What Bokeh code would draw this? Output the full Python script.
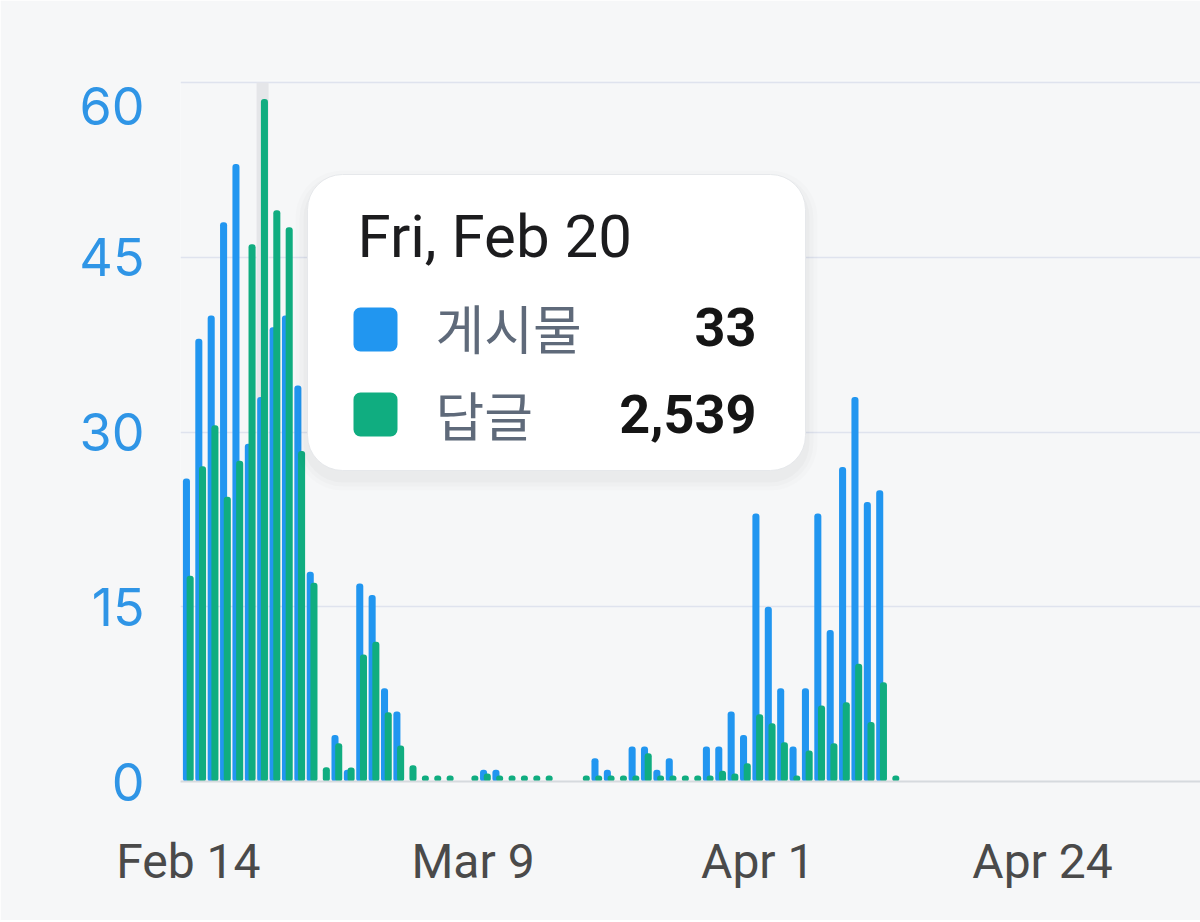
import pandas as pd
from bokeh.plotting import figure
from bokeh.models import Range1d, FixedTicker
from bokeh.core.properties import value
from bokeh.embed import file_html
from bokeh.resources import INLINE

# ---------------- data ----------------
start_date = "2026-02-14"
dates = pd.date_range(start_date, "2026-04-12").strftime("%Y-%m-%d").tolist()
posts = [26, 38, 40, 48, 53, 29, 33, 39, 40, 34,
         18, 0, 4, 1, 17, 16, 8, 6, 0, 0,
         0, 0, 0, 0, 1, 1, 0, 0, 0, 0,
         0, 0, 0, 2, 1, 0, 3, 3, 1, 2,
         0, 0, 3, 3, 6, 4, 23, 15, 8, 3,
         8, 23, 13, 27, 33, 24, 25, 0]
replies = [765, 1173, 1325, 1059, 1193, 1998, 2539, 2125, 2062, 1229,
           739, 53, 142, 52, 472, 520, 258, 134, 60, 22,
           22, 22, 0, 22, 30, 22, 22, 22, 22, 22,
           0, 0, 22, 22, 22, 22, 22, 105, 22, 22,
           22, 22, 22, 40, 30, 68, 250, 217, 146, 22,
           115, 283, 142, 295, 438, 221, 369, 22]
series_names = ["게시물", "답글"]
tick_dates = ["2026-02-14", "2026-03-09", "2026-04-01", "2026-04-24"]
tick_labels = ["Feb 14", "Mar 9", "Apr 1", "Apr 24"]
y_ticks = [0, 15, 30, 45, 60]
highlight_date = "2026-02-20"

BLUE = "#2196f0"
GREEN = "#10ad80"
BG = "#f6f7f8"

t0 = pd.Timestamp(start_date)
day = [(pd.Timestamp(d) - t0).days for d in dates]
tick_pos = [(pd.Timestamp(d) - t0).days for d in tick_dates]

# ---------------- layout geometry (page pixels) ----------------
W, H = 1200, 920
FL, FR, FB = 180, 1200, 781
GRID_TOP = 82                      # pixel row of the top gridline
FT = 80                            # frame top (a little above it so it shows)
PX_PER_DAY = 12.38
y_max = 60
PX_PER_UNIT = (FB - GRID_TOP) / y_max
x_start = -0.63
x_end = x_start + (FR - FL) / PX_PER_DAY
y_top = (FB - FT) / PX_PER_UNIT
reply_max = 2600 * y_top / y_max


def dx(px):
    return x_start + (px - FL) / PX_PER_DAY


def dy(py):
    return (FB - py) / PX_PER_UNIT


p = figure(width=W, height=H, output_backend="svg", toolbar_location=None,
           x_range=Range1d(x_start, x_end), y_range=Range1d(0, y_top),
           min_border_left=FL, min_border_right=W - FR, min_border_top=FT,
           min_border_bottom=H - FB)
p.extra_y_ranges = {"replies": Range1d(0, reply_max)}
p.background_fill_color = BG
p.border_fill_color = BG
p.outline_line_color = None

# hover band
hi = (pd.Timestamp(highlight_date) - t0).days
p.vbar(x=[hi], width=0.97, top=[y_max], bottom=0, fill_color="#e5e6e9",
       line_color=None)

bar_w = 0.57
off = 0.15
p.vbar(x=[d - off for d in day], width=bar_w, top=posts, bottom=0,
       fill_color=BLUE, line_color=None, border_radius=3)
p.vbar(x=[d + off for d in day], width=bar_w, top=replies, bottom=0,
       fill_color=GREEN, line_color=None, border_radius=3,
       y_range_name="replies")

# axes
p.xaxis.ticker = FixedTicker(ticks=tick_pos)
p.xaxis.major_label_overrides = {t: l for t, l in zip(tick_pos, tick_labels)}
p.xaxis.major_tick_line_color = None
p.xaxis.minor_tick_line_color = None
p.xaxis.axis_line_color = "#d6dade"
p.xaxis.axis_line_width = 2
p.xaxis.major_label_text_font = "Roboto"
p.xaxis.major_label_text_font_size = "48px"
p.xaxis.major_label_text_color = "#4a4a4a"
p.xaxis.major_label_standoff = 45

# the top tick label is drawn a little below its gridline, as in the source chart
top_label_pos = 58
p.yaxis.ticker = FixedTicker(ticks=y_ticks[:-1] + [top_label_pos])
p.yaxis.major_label_overrides = {top_label_pos: str(y_ticks[-1])}
p.yaxis.major_tick_line_color = None
p.yaxis.minor_tick_line_color = None
p.yaxis.axis_line_color = None
p.yaxis.major_label_text_font = "Inter"
p.yaxis.major_label_text_font_size = "52px"
p.yaxis.major_label_text_color = "#2f95e6"
p.yaxis.major_label_standoff = 30

p.xgrid.grid_line_color = None
p.ygrid.ticker = FixedTicker(ticks=y_ticks)
p.ygrid.grid_line_color = "#dfe3ee"
p.ygrid.grid_line_width = 1.5

# ---------------- tooltip ----------------
TEXT_SHIFT = 21   # compensation for how the text baseline is placed
TL, TR, TT, TB = 307, 805, 174, 470
for grow, a in [(12, 0.010), (8, 0.014), (4, 0.02)]:
    p.quad(left=[dx(TL - grow)], right=[dx(TR + grow)], top=[dy(TT - grow + 8)],
           bottom=[dy(TB + grow + 8)], fill_color="black", fill_alpha=a,
           line_color=None, border_radius=35 + grow)
p.quad(left=[dx(TL)], right=[dx(TR)], top=[dy(TT)], bottom=[dy(TB)],
       fill_color="white", line_color="#e6e8eb", line_width=1, border_radius=35)

hi_idx = dates.index(highlight_date)
title = pd.Timestamp(highlight_date).strftime("%a, %b ") + str(pd.Timestamp(highlight_date).day)
p.text(x=[dx(357)], y=[dy(257 - TEXT_SHIFT)], text=[title], text_font=value("Roboto"),
       text_font_size="60px", text_color="#1c1c1e", text_baseline="alphabetic",
       text_align="left")

rows = [(series_names[0], posts[hi_idx], BLUE, 307, 347),
        (series_names[1], replies[hi_idx], GREEN, 392, 434)]
for name, val, col, sq_top, base in rows:
    p.quad(left=[dx(353)], right=[dx(397)], top=[dy(sq_top)], bottom=[dy(sq_top + 44)],
           fill_color=col, line_color=None, border_radius=7)
    p.text(x=[dx(435)], y=[dy(base - TEXT_SHIFT)], text=[name],
           text_font=value("Noto Sans CJK KR"), text_font_size="53px",
           text_color="#5f6a7a", text_baseline="alphabetic", text_align="left")
    p.text(x=[dx(756)], y=[dy(base - TEXT_SHIFT)], text=[f"{val:,}"],
           text_font=value("Roboto"), text_font_size="54px", text_font_style="bold",
           text_color="#151515", text_baseline="alphabetic", text_align="right")

html = file_html(p, INLINE)
html = html.replace("<body>", f'<body style="background:{BG}">', 1)
open("out.html", "w").write(html)
